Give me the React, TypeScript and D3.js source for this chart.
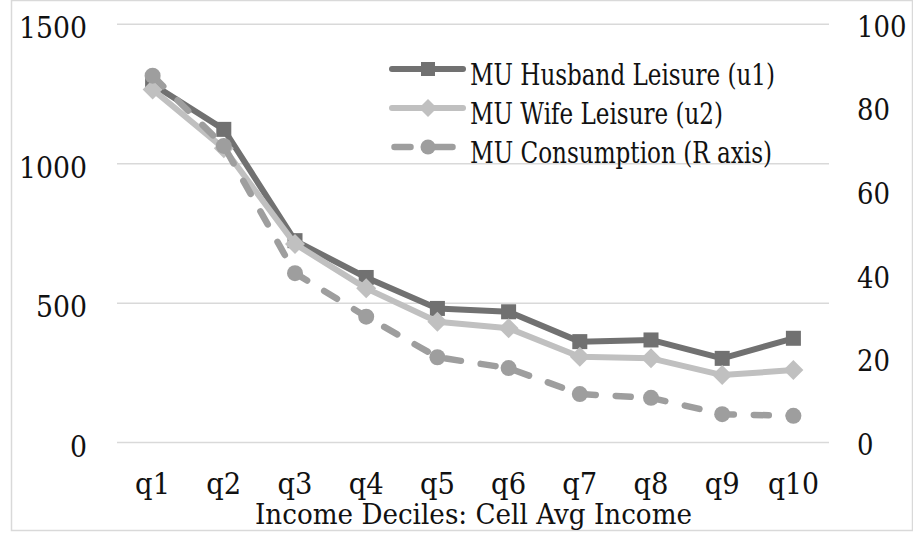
import React from 'react';
import * as d3 from 'd3';

const categories = ['q1', 'q2', 'q3', 'q4', 'q5', 'q6', 'q7', 'q8', 'q9', 'q10'];
const husband = [1285, 1123, 724, 592, 481, 469, 362, 368, 302, 374];
const wife = [1266, 1055, 712, 553, 433, 410, 308, 302, 242, 260];
const consumption = [87.7, 70.9, 40.5, 30.1, 20.4, 17.8, 11.6, 10.7, 6.8, 6.4];
const leftTicks = [0, 500, 1000, 1500];
const rightTicks = [0, 20, 40, 60, 80, 100];
const legendLabels = ['MU Husband Leisure (u1)', 'MU Wife Leisure (u2)', 'MU Consumption (R axis)'];
const axisTitle = 'Income Deciles: Cell Avg Income';

const W = 913;
const H = 534;
const FONT = '"DejaVu Serif", serif';
const C_H = '#717171';
const C_W = '#c0c0c0';
const C_C = '#9e9e9e';

export default function App() {
  const x = d3.scaleBand<string>().domain(categories).range([117, 829]);
  const cx = (c: string) => (x(c) as number) + x.bandwidth() / 2;
  const yL = d3.scaleLinear().domain([0, 1500]).range([442.6, 24.2]);
  const yR = d3.scaleLinear().domain([0, 100]).range([442.6, 24.2]);

  const lineL = d3.line<number>().x((_, i) => cx(categories[i])).y((d) => yL(d));
  const lineR = d3.line<number>().x((_, i) => cx(categories[i])).y((d) => yR(d));

  const diamond = (px: number, py: number, r: number) =>
    `M${px},${py - r}L${px + r},${py}L${px},${py + r}L${px - r},${py}Z`;

  const legendRows = [69, 108, 147];
  const legendWidths = [305, 253, 302];

  return (
    <svg width={W} height={H} style={{ position: 'absolute', left: 0, top: 0, background: '#fff' }}>
      <rect x={11.5} y={0.5} width={901} height={530} fill="#fff" stroke="#d9d9d9" strokeWidth={1.5} />
      {leftTicks.map((t) => (
        <line key={'g' + t} x1={117} x2={829} y1={yL(t)} y2={yL(t)} stroke="#d9d9d9" strokeWidth={1.5} />
      ))}
      {leftTicks.map((t) => (
        <text key={'l' + t} x={87} y={yL(t) + 14} textAnchor="end" fontFamily={FONT} fontSize={30} fill="#111"
          textLength={String(t).length * 17} lengthAdjust="spacingAndGlyphs">
          {t}
        </text>
      ))}
      {rightTicks.map((t) => (
        <text key={'r' + t} x={857} y={yR(t) + 12.5} textAnchor="start" fontFamily={FONT} fontSize={30} fill="#111"
          textLength={String(t).length * 16.5} lengthAdjust="spacingAndGlyphs">
          {t}
        </text>
      ))}
      {categories.map((c) => (
        <text key={'x' + c} x={cx(c)} y={494} textAnchor="middle" fontFamily={FONT} fontSize={29} fill="#111"
          textLength={c.length === 2 ? 35 : 51} lengthAdjust="spacingAndGlyphs">
          {c}
        </text>
      ))}
      <text x={473.5} y={523.5} textAnchor="middle" fontFamily={FONT} fontSize={28} fill="#111"
        textLength={437} lengthAdjust="spacingAndGlyphs">
        {axisTitle}
      </text>

      {/* Husband */}
      <path d={lineL(husband) as string} fill="none" stroke={C_H} strokeWidth={6} strokeLinejoin="round" />
      {husband.map((v, i) => (
        <rect key={'hs' + i} x={cx(categories[i]) - 7.5} y={yL(v) - 7.5} width={15} height={15} fill={C_H} />
      ))}
      {/* Wife */}
      <path d={lineL(wife) as string} fill="none" stroke={C_W} strokeWidth={6} strokeLinejoin="round" />
      {wife.map((v, i) => (
        <path key={'wd' + i} d={diamond(cx(categories[i]), yL(v), 10)} fill={C_W} />
      ))}
      {/* Consumption */}
      <path d={lineR(consumption) as string} fill="none" stroke={C_C} strokeWidth={6.5} strokeLinecap="round"
        strokeDasharray="15 20" strokeLinejoin="round" />
      {consumption.map((v, i) => (
        <circle key={'cc' + i} cx={cx(categories[i])} cy={yR(v)} r={8} fill={C_C} />
      ))}

      {/* Legend */}
      <line x1={392} x2={463} y1={legendRows[0]} y2={legendRows[0]} stroke={C_H} strokeWidth={6} strokeLinecap="round" />
      <rect x={421} y={legendRows[0] - 7} width={14} height={14} fill={C_H} />
      <line x1={392} x2={463} y1={legendRows[1]} y2={legendRows[1]} stroke={C_W} strokeWidth={6} strokeLinecap="round" />
      <path d={diamond(428, legendRows[1], 9)} fill={C_W} />
      <line x1={394.5} x2={410.5} y1={legendRows[2]} y2={legendRows[2]} stroke={C_C} strokeWidth={6.5} strokeLinecap="round" />
      <line x1={428} x2={452.5} y1={legendRows[2]} y2={legendRows[2]} stroke={C_C} strokeWidth={6.5} strokeLinecap="round" />
      <circle cx={428} cy={legendRows[2]} r={7.5} fill={C_C} />
      {legendLabels.map((l, i) => (
        <text key={'lg' + i} x={470} y={legendRows[i] + 16} fontFamily={FONT} fontSize={30} fill="#111"
          textLength={legendWidths[i]} lengthAdjust="spacingAndGlyphs">
          {l}
        </text>
      ))}
    </svg>
  );
}
